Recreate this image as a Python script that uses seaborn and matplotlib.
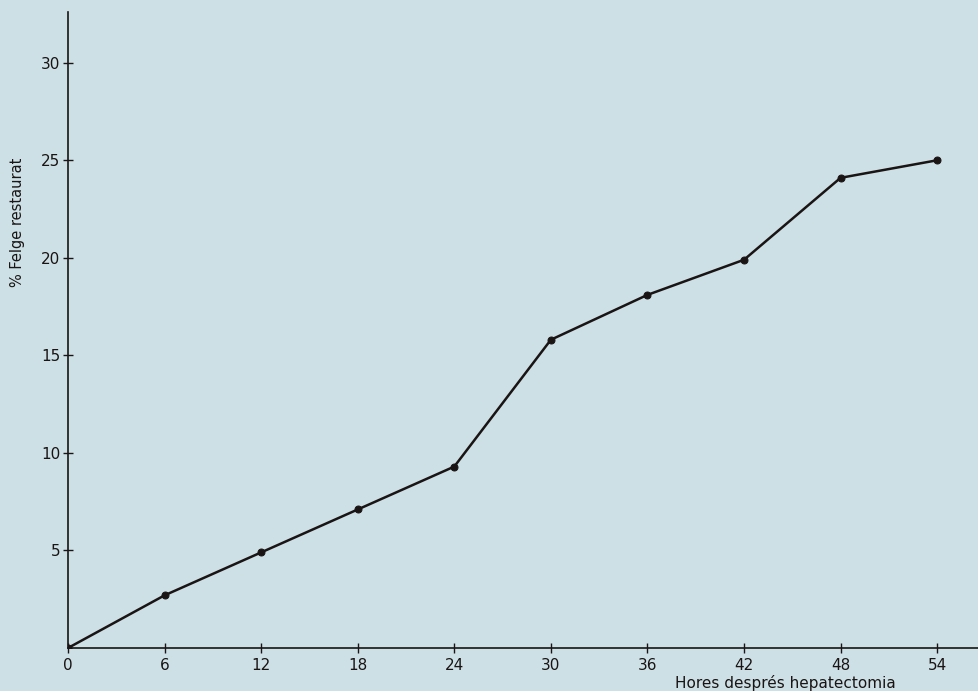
import matplotlib
matplotlib.use("Agg")
import matplotlib.pyplot as plt
import seaborn as sns
import pandas as pd

hours = [0, 6, 12, 18, 24, 30, 36, 42, 48, 54]
percent = [0.0, 2.7, 4.9, 7.1, 9.3, 15.8, 18.1, 19.9, 24.1, 25.0]
x_ticks = [0, 6, 12, 18, 24, 30, 36, 42, 48, 54]
y_ticks = [5, 10, 15, 20, 25, 30]
x_label = "Hores després hepatectomia"
y_label = "% Felge restaurat"

sns.set_theme(style="ticks")
plt.rcParams['font.family'] = ['DejaVu Sans']
bg = "#cde0e5"
ink = "#1a1414"

df = pd.DataFrame({"hours": hours, "percent": percent})

fig = plt.figure(figsize=(9.79, 6.91), dpi=100, facecolor=bg)
ax = fig.add_axes([68/979, 1 - 648/691, 1 - 68/979, (648 - 12)/691])
ax.set_facecolor(bg)

sns.lineplot(data=df, x="hours", y="percent", ax=ax, color=ink, linewidth=1.8,
             marker="o", markersize=5, markeredgecolor=ink, markerfacecolor=ink)

ax.set_xlim(0, 56.6)
ax.set_ylim(0, 32.6)
ax.set_xticks(x_ticks)
ax.set_yticks(y_ticks)
ax.set_xticklabels([str(t) for t in x_ticks], fontsize=11, color=ink)
ax.set_yticklabels([str(t) for t in y_ticks], fontsize=11, color=ink)
ax.tick_params(axis="both", direction="inout", length=7, width=1, color=ink, pad=4)
ax.tick_params(axis="y", pad=2)
for s in ["top", "right"]:
    ax.spines[s].set_visible(False)
for s in ["left", "bottom"]:
    ax.spines[s].set_color(ink)
    ax.spines[s].set_linewidth(1.2)
ax.set_xlabel("")
ax.set_ylabel("")

fig.text(785/979, 1 - 683/691, x_label, ha="center", va="center", fontsize=11, color=ink)
fig.text(18/979, 1 - 222/691, y_label, ha="center", va="center", rotation=90, fontsize=10.5, color=ink)

fig.savefig("out.png", dpi=100, facecolor=bg)
